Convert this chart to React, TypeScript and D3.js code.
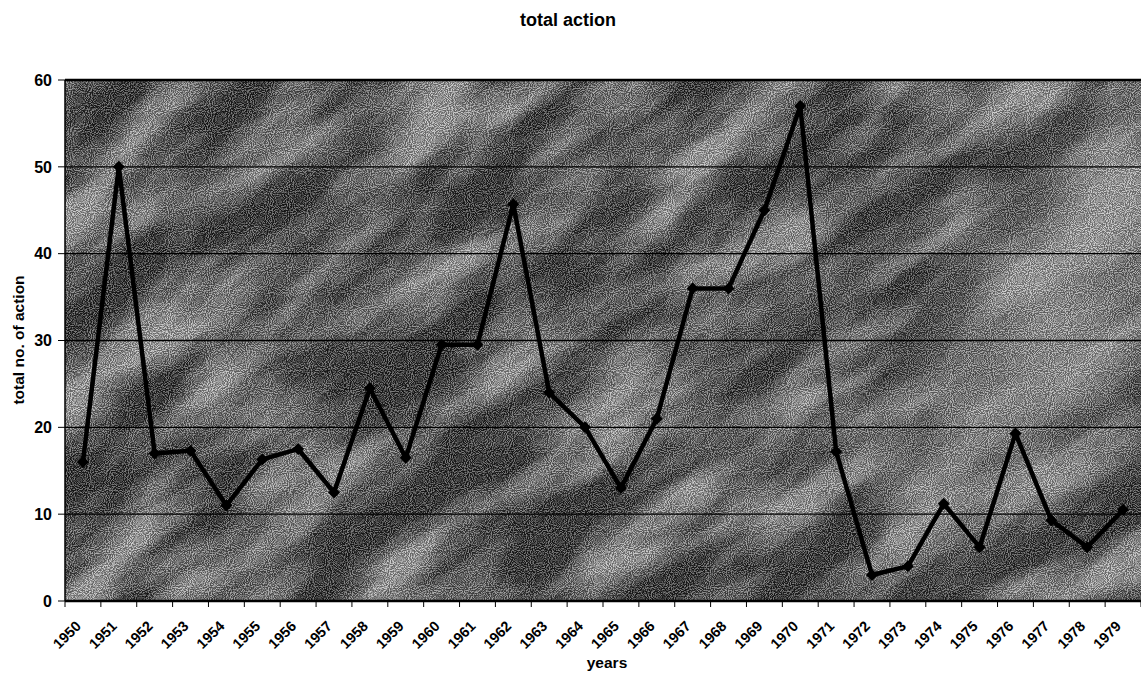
import React from "react";
import * as d3 from "d3";

const years: string[] = [
  "1950","1951","1952","1953","1954","1955","1956","1957","1958","1959",
  "1960","1961","1962","1963","1964","1965","1966","1967","1968","1969",
  "1970","1971","1972","1973","1974","1975","1976","1977","1978","1979",
];
const totalAction: number[] = [
  16, 50, 17, 17.3, 11, 16.3, 17.5, 12.5, 24.5, 16.5,
  29.5, 29.5, 45.7, 24, 20, 13, 21, 36, 36, 45,
  57, 17.2, 3, 4, 11.2, 6.2, 19.3, 9.3, 6.2, 10.5,
];
const yTicks: number[] = [0, 10, 20, 30, 40, 50, 60];

const W = 1141;
const H = 675;
const L = 65;
const R = 1141;
const T = 80;
const B = 601;

export default function App() {
  const x = d3.scaleBand<string>().domain(years).range([L, R]).padding(0);
  const y = d3.scaleLinear().domain([0, 60]).range([B, T]);
  const cx = (d: string) => (x(d) as number) + x.bandwidth() / 2;
  const line = d3
    .line<number>()
    .x((_, i) => cx(years[i]))
    .y((v) => y(v));
  const font = "Arial, 'Liberation Sans', sans-serif";
  const boundaries = d3.range(years.length + 1).map((i) => L + i * x.bandwidth());

  return (
    <svg
      width={W}
      height={H}
      style={{ position: "absolute", left: 0, top: 0, background: "#fff" }}
      fontFamily={font}
    >
      <defs>
        <clipPath id="plotClip">
          <rect x={L} y={T} width={R - L} height={B - T} />
        </clipPath>
        <linearGradient id="baseGrad" x1="0" y1="0" x2="1" y2="0">
          <stop offset="0%" stopColor="#4a4a4a" />
          <stop offset="60%" stopColor="#4e4e4e" />
          <stop offset="100%" stopColor="#585858" />
        </linearGradient>
        <radialGradient id="lightSpot" cx="1050" cy="320" r="330" gradientUnits="userSpaceOnUse"
          gradientTransform="translate(1050 320) rotate(-58) scale(1 0.42) translate(-1050 -320)">
          <stop offset="0%" stopColor="#c4c4c4" stopOpacity={0.8} />
          <stop offset="50%" stopColor="#aaaaaa" stopOpacity={0.45} />
          <stop offset="100%" stopColor="#9a9a9a" stopOpacity={0} />
        </radialGradient>
        <filter id="cloud" x="0" y="0" width="100%" height="100%" colorInterpolationFilters="sRGB">
          <feTurbulence type="fractalNoise" baseFrequency="0.006 0.018" numOctaves="4" seed="11" />
          <feColorMatrix
            type="matrix"
            values="2.6 0 0 0 -0.92  2.6 0 0 0 -0.92  2.6 0 0 0 -0.92  0 0 0 0 0.55"
          />
        </filter>
        <filter id="grain" x="0" y="0" width="100%" height="100%" colorInterpolationFilters="sRGB">
          <feTurbulence type="fractalNoise" baseFrequency="0.95" numOctaves="1" seed="2" />
          <feColorMatrix
            type="matrix"
            values="4 0 0 0 -1.6  4 0 0 0 -1.6  4 0 0 0 -1.6  0 0 0 0 0.4"
          />
        </filter>
      </defs>

      {/* Title */}
      <text x={568} y={26} textAnchor="middle" fontSize={18} fontWeight="bold">
        total action
      </text>

      {/* Plot background texture */}
      <g clipPath="url(#plotClip)">
        <rect x={L} y={T} width={R - L} height={B - T} fill="url(#baseGrad)" />
        <g transform={`rotate(-35 ${(L + R) / 2} ${(T + B) / 2})`}>
          <rect x={-200} y={-400} width={1600} height={1500} filter="url(#cloud)" />
        </g>
        <rect x={L} y={T} width={R - L} height={B - T} fill="url(#lightSpot)" />
        <rect x={L} y={T} width={R - L} height={B - T} filter="url(#grain)" />
      </g>

      {/* Gridlines */}
      {yTicks.slice(1).map((t) => (
        <line key={t} x1={L} x2={R} y1={y(t)} y2={y(t)} stroke="#000" strokeWidth={t === 60 ? 2.5 : 1.3} />
      ))}

      {/* Axes */}
      <line x1={L} x2={L} y1={T} y2={B} stroke="#000" strokeWidth={1.5} />
      <line x1={L} x2={R} y1={B} y2={B} stroke="#000" strokeWidth={2.5} />

      {/* Y ticks */}
      {yTicks.map((t) => (
        <g key={t}>
          <line x1={L - 7} x2={L} y1={y(t)} y2={y(t)} stroke="#000" strokeWidth={1} />
          <text x={L - 13} y={y(t)} dy="0.36em" textAnchor="end" fontSize={16} fontWeight="bold">
            {t}
          </text>
        </g>
      ))}

      {/* X ticks */}
      {boundaries.map((bx, i) => (
        <line key={i} x1={bx} x2={bx} y1={B} y2={B + 6} stroke="#000" strokeWidth={1} />
      ))}
      {years.map((yr) => (
        <text
          key={yr}
          transform={`translate(${cx(yr) - 1},${B + 26}) rotate(-45)`}
          textAnchor="end"
          fontSize={14.5}
          fontWeight="bold"
        >
          {yr}
        </text>
      ))}

      {/* Axis titles */}
      <text
        transform={`translate(24,340) rotate(-90)`}
        textAnchor="middle"
        fontSize={15.5}
        fontWeight="bold"
      >
        total no. of action
      </text>
      <text x={607} y={668} textAnchor="middle" fontSize={15.5} fontWeight="bold">
        years
      </text>

      {/* Data line */}
      <path d={line(totalAction) ?? ""} fill="none" stroke="#000" strokeWidth={4.5} strokeLinejoin="round" />
      {totalAction.map((v, i) => {
        const px = cx(years[i]);
        const py = y(v);
        return (
          <path
            key={years[i]}
            d={`M${px},${py - 6}L${px + 6},${py}L${px},${py + 6}L${px - 6},${py}Z`}
            fill="#000"
          />
        );
      })}
    </svg>
  );
}
